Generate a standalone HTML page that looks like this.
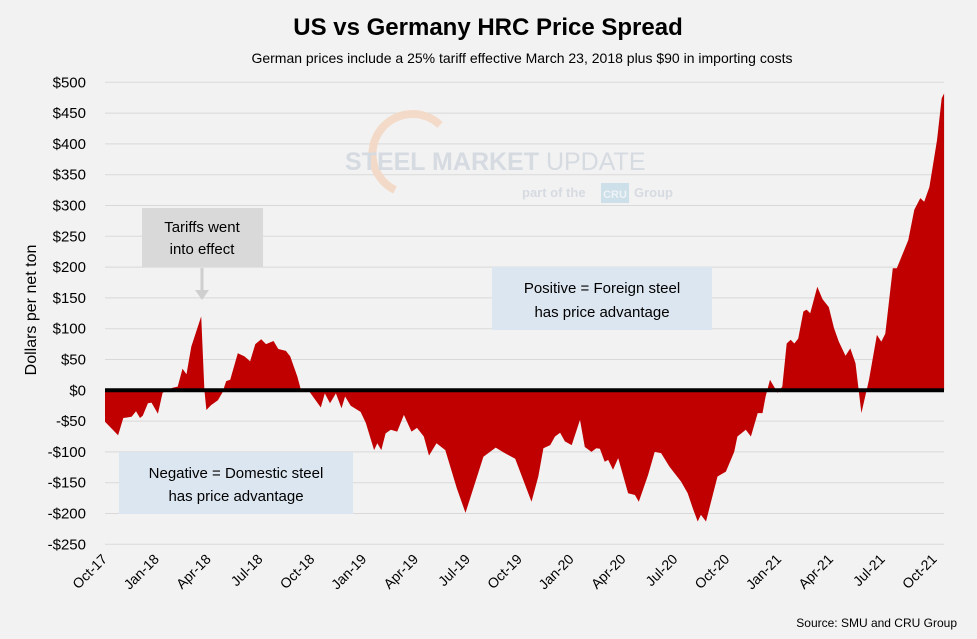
<!DOCTYPE html>
<html><head><meta charset="utf-8"><style>
body{margin:0;background:#f2f2f2;}
svg{display:block;font-family:"Liberation Sans",sans-serif;}
</style></head><body>
<svg id="chart" width="977" height="639" viewBox="0 0 977 639">
<rect x="0" y="0" width="977" height="639" fill="#f2f2f2"/>
<text x="488" y="35" text-anchor="middle" font-size="24" font-weight="bold" fill="#000">US vs Germany HRC Price Spread</text>
<text x="522" y="63" text-anchor="middle" font-size="14" fill="#000">German prices include a 25% tariff effective March 23, 2018 plus $90 in importing costs</text>
<g id="grid"></g>
<g opacity="0.9">
<path d="M395 190 A40 40 0 1 1 440 125" fill="none" stroke="#f4d8c4" stroke-width="8"/>
<text x="345" y="170" font-size="25" font-weight="bold" fill="#d3d8e0">STEEL MARKET <tspan font-weight="normal">UPDATE</tspan></text>
<text x="522" y="197" font-size="13" font-weight="bold" fill="#d3d8e0">part of the</text>
<rect x="601" y="183" width="28" height="20" fill="#c9dde8"/>
<text x="615" y="198" text-anchor="middle" font-size="11" font-weight="bold" fill="#eef4f8">CRU</text>
<text x="634" y="197" font-size="13" font-weight="bold" fill="#d3d8e0">Group</text>
</g>
<g id="series"></g>
<g id="yticks"></g>
<g id="xticks"></g>
<text transform="translate(36,310) rotate(-90)" text-anchor="middle" font-size="16" fill="#000">Dollars per net ton</text>
<g>
<rect x="142" y="208" width="121" height="59" fill="#d9d9d9"/>
<text x="202" y="232" text-anchor="middle" font-size="15">Tariffs went</text>
<text x="202" y="254" text-anchor="middle" font-size="15">into effect</text>
<line x1="202" y1="268" x2="202" y2="292" stroke="#cfcfcf" stroke-width="3"/>
<polygon points="195,290 209,290 202,300" fill="#cfcfcf"/>
</g>
<g>
<rect x="492" y="267" width="220" height="63" fill="#dce6f1"/>
<text x="602" y="293" text-anchor="middle" font-size="15">Positive = Foreign steel</text>
<text x="602" y="317" text-anchor="middle" font-size="15">has price advantage</text>
</g>
<g>
<rect x="119" y="452" width="234" height="62" fill="#dce6f1"/>
<text x="236" y="478" text-anchor="middle" font-size="15">Negative = Domestic steel</text>
<text x="236" y="501" text-anchor="middle" font-size="15">has price advantage</text>
</g>
<text x="957" y="627" text-anchor="end" font-size="12" fill="#000">Source: SMU and CRU Group</text>
</svg>
<script>
const weeks=[0,3.3,4.6,6.7,7.8,8.8,9.5,10.8,11.7,13.3,14.5,17.0,18.3,19.5,20.5,21.7,24.2,25.0,25.5,26.7,28.4,29.5,30.5,31.5,33.4,35.1,36.5,37.8,39.3,40.5,42.4,43.6,45.5,46.6,48.4,49.3,51.4,54.3,55.3,56.6,58.1,59.5,60.4,61.8,64.3,65.6,67.7,68.5,69.5,70.6,71.9,73.5,75.2,77.1,78.5,80.2,81.5,83.4,85.6,88.5,90.7,93.2,95.2,98.3,100.3,103.2,107.3,109.0,110.3,112.0,113.2,114.5,115.7,117.4,119.5,120.7,122.4,123.6,124.5,125.7,126.6,127.8,129.1,131.6,133.3,134.3,136.6,138.3,139.9,142.0,144.9,146.6,147.9,149.1,149.9,151.2,154.1,156.2,158.3,159.1,161.2,162.5,164.2,165.4,166.2,167.3,169.2,170.4,171.5,172.5,173.4,174.4,175.7,176.5,177.4,179.2,180.5,182.1,183.4,184.6,186.3,187.5,188.8,190.3,192.2,194.2,195.3,196.3,198.2,199.2,202.1,203.6,205.1,206.1,207.4,209.3,210.5,211.1];
const spread=[-51,-73,-45,-43,-34,-45,-41,-21,-20,-38,-4,4,6,35,26,71,120,0,-32,-24,-16,-4,15,17,60,55,47,75,83,75,80,67,64,55,22,0,-2,-28,-5,-21,-5,-29,-10,-25,-35,-53,-97,-86,-97,-70,-64,-67,-40,-67,-61,-75,-106,-86,-97,-159,-199,-148,-108,-93,-101,-111,-181,-140,-94,-89,-75,-69,-83,-89,-48,-92,-100,-94,-95,-116,-113,-129,-110,-167,-170,-181,-138,-100,-102,-124,-148,-167,-192,-213,-202,-213,-140,-132,-100,-75,-64,-75,-37,-37,-10,17,-4,6,76,82,76,84,128,131,125,168,148,135,101,79,56,68,44,-37,17,90,79,92,198,198,244,293,312,306,330,406,474,482];
const yTicks=[500,450,400,350,300,250,200,150,100,50,0,-50,-100,-150,-200,-250];
const xLabels=["Oct-17","Jan-18","Apr-18","Jul-18","Oct-18","Jan-19","Apr-19","Jul-19","Oct-19","Jan-20","Apr-20","Jul-20","Oct-20","Jan-21","Apr-21","Jul-21","Oct-21"];
const NS="http://www.w3.org/2000/svg";
const X0=105,X1=944,PXW=3.975,Y0=390.3,PX50=30.8;
const xs=w=>X0+w*PXW;
const ys=v=>Y0-v/50*PX50;
const grid=document.getElementById('grid'),yt=document.getElementById('yticks'),xt=document.getElementById('xticks'),ser=document.getElementById('series');
yTicks.forEach(v=>{
 const l=document.createElementNS(NS,'line');
 l.setAttribute('x1',X0);l.setAttribute('x2',X1);l.setAttribute('y1',ys(v));l.setAttribute('y2',ys(v));
 l.setAttribute('stroke','#d9d9d9');l.setAttribute('stroke-width','1');
 
 
 grid.appendChild(l);
 const t=document.createElementNS(NS,'text');
 t.setAttribute('x',86);t.setAttribute('y',ys(v)+5);t.setAttribute('text-anchor','end');t.setAttribute('font-size','15');
 t.textContent=(v<0?'-$':'$')+Math.abs(v);
 
 
 yt.appendChild(t);
});
xLabels.forEach((s,i)=>{
 const x=xs(i*52.18/4);
 const t=document.createElementNS(NS,'text');
 t.setAttribute('transform','translate('+(x+3)+',560) rotate(-45)');
 t.setAttribute('text-anchor','end');t.setAttribute('font-size','14');
 t.textContent=s;
 
 
 xt.appendChild(t);
});
let d='M'+xs(weeks[0])+' '+ys(0);
weeks.forEach((w,i)=>{d+=' L'+xs(w).toFixed(1)+' '+ys(spread[i]).toFixed(1);});
d+=' L'+xs(weeks[weeks.length-1]).toFixed(1)+' '+ys(0)+' Z';
const a=document.createElementNS(NS,'path');
a.setAttribute('d',d);a.setAttribute('fill','#c00000');


ser.appendChild(a);
const z=document.createElementNS(NS,'line');
z.setAttribute('x1',X0);z.setAttribute('x2',X1);z.setAttribute('y1',ys(0));z.setAttribute('y2',ys(0));
z.setAttribute('stroke','#000');z.setAttribute('stroke-width','4');


ser.appendChild(z);
</script>
</body></html>
